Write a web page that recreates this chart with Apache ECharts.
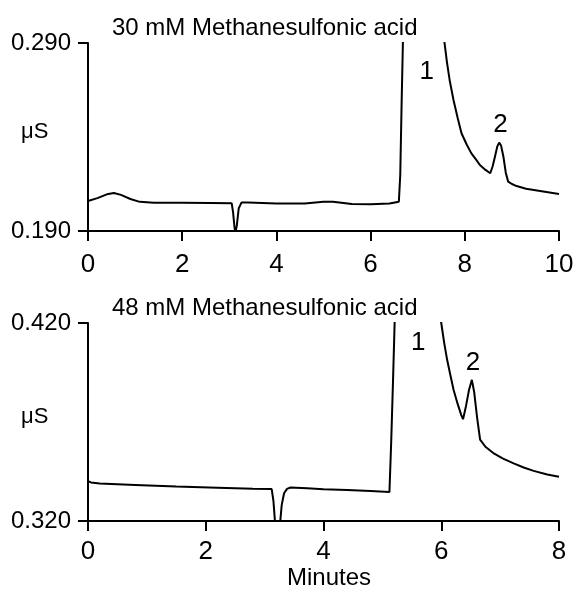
<!DOCTYPE html>
<html>
<head>
<meta charset="utf-8">
<title>Methanesulfonic acid chromatograms</title>
<script src="https://cdn.jsdelivr.net/npm/echarts@6/dist/echarts.min.js"></script>
</head>
<body style="margin: 0;height:100%;background:#fff;">
<div id="main" style="width: 577px;height: 591px;"></div>
<script type="text/javascript">
    // 30 mM run (top)
    var topTimes = [0.00, 0.20, 0.40, 0.55, 0.70, 0.90, 1.10, 1.40, 2.00, 2.60, 3.05, 3.08, 3.11, 3.13, 3.16, 3.20, 3.26, 3.40,
        4.00, 4.60, 5.00, 5.20, 5.60, 6.00, 6.40, 6.60, 6.63, 6.66, 6.69, 6.72, 7.10, 7.54, 7.57, 7.62, 7.68, 7.76, 7.85, 7.93,
        8.04, 8.14, 8.24, 8.32, 8.44, 8.54, 8.59, 8.64, 8.69, 8.73, 8.77, 8.82, 8.87, 8.92, 9.00, 9.10, 9.30, 9.60, 10.00];
    var topValues = [0.2060, 0.2075, 0.2095, 0.2102, 0.2092, 0.2070, 0.2055, 0.2050, 0.2050, 0.2049, 0.2048, 0.2000, 0.1920, 0.1890, 0.1930, 0.2020, 0.2052, 0.2052,
        0.2046, 0.2046, 0.2056, 0.2056, 0.2044, 0.2042, 0.2046, 0.2056, 0.2200, 0.2600, 0.2950, 0.4000, 0.6000, 0.3000, 0.2900, 0.2800, 0.2700, 0.2597, 0.2500, 0.2420,
        0.2360, 0.2313, 0.2280, 0.2251, 0.2225, 0.2207, 0.2243, 0.2295, 0.2350, 0.2370, 0.2355, 0.2295, 0.2210, 0.2163, 0.2150, 0.2139, 0.2125, 0.2113, 0.2097];

    // 48 mM run (bottom)
    var bottomTimes = [0.00, 0.05, 0.20, 0.80, 1.50, 2.20, 2.80, 3.12, 3.15, 3.18, 3.26, 3.29, 3.33, 3.38, 3.44, 3.72, 4.00, 4.40, 4.80, 5.12,
        5.15, 5.18, 5.21, 5.24, 5.60, 5.98, 6.00, 6.05, 6.10, 6.16, 6.21, 6.28, 6.34, 6.37, 6.42, 6.47, 6.52, 6.56, 6.61, 6.66,
        6.75, 6.90, 7.05, 7.23, 7.40, 7.57, 7.80, 8.00];
    var bottomValues = [0.3401, 0.3395, 0.3389, 0.3382, 0.3374, 0.3368, 0.3363, 0.3361, 0.3300, 0.3180, 0.3180, 0.3280, 0.3340, 0.3362, 0.3369, 0.3366, 0.3360, 0.3356, 0.3351, 0.3347,
        0.3600, 0.3900, 0.4220, 0.5000, 0.7000, 0.4250, 0.4200, 0.4100, 0.4014, 0.3930, 0.3862, 0.3790, 0.3735, 0.3714, 0.3780, 0.3860, 0.3913, 0.3850, 0.3720, 0.3611,
        0.3575, 0.3540, 0.3515, 0.3491, 0.3470, 0.3453, 0.3435, 0.3423];

    var topTicks = [0.190, 0.290];
    var bottomTicks = [0.320, 0.420];

    // peak labels [time, value, text]
    var topPeaks = [[7.19, 0.2747, '1'], [8.76, 0.2464, '2']];
    var bottomPeaks = [[5.61, 0.4099, '1'], [6.54, 0.3997, '2']];

    var FONT = "'Liberation Sans', Arial, sans-serif";

    function zip(xs, ys) {
        return xs.map(function (x, i) { return [x, ys[i]]; });
    }
    function peakMarks(list) {
        return list.map(function (p) {
            return {coord: [p[0], p[1]], value: p[2]};
        });
    }
    function xAxisOpt(idx, max) {
        return {
            type: 'value', gridIndex: idx, min: 0, max: max, interval: 2,
            axisLine: {onZero: false, lineStyle: {color: '#000', width: 2}},
            axisTick: {length: 10, lineStyle: {color: '#000', width: 2}},
            axisLabel: {color: '#000', fontSize: 26, fontFamily: FONT, margin: idx === 0 ? 21 : 18},
            splitLine: {show: false}
        };
    }
    function yAxisOpt(idx, ticks) {
        return {
            type: 'value', gridIndex: idx, min: ticks[0], max: ticks[1],
            axisLine: {show: true, lineStyle: {color: '#000', width: 2}},
            axisTick: {show: true, length: 10, customValues: ticks, lineStyle: {color: '#000', width: 2}},
            axisLabel: {
                color: '#000', fontSize: 24, fontFamily: FONT, margin: 17, customValues: ticks,
                formatter: function (v) { return v.toFixed(3); }
            },
            splitLine: {show: false}
        };
    }
    function lineSeries(idx, data, peaks) {
        return {
            type: 'line', xAxisIndex: idx, yAxisIndex: idx,
            data: data, showSymbol: false, clip: true, animation: false,
            lineStyle: {color: '#000', width: 2},
            markPoint: {
                symbol: 'circle', symbolSize: 1,
                itemStyle: {color: 'rgba(0,0,0,0)'},
                label: {show: true, position: 'inside', color: '#000', fontSize: 26, fontFamily: FONT,
                    formatter: function (p) { return p.value; }},
                data: peakMarks(peaks)
            }
        };
    }

    var myChart = echarts.init(document.getElementById('main'));
    var option = {
        animation: false,
        grid: [
            {left: 88, top: 43, width: 471, height: 188},
            {left: 88, top: 323, width: 471, height: 198}
        ],
        xAxis: [xAxisOpt(0, 10), xAxisOpt(1, 8)],
        yAxis: [yAxisOpt(0, topTicks), yAxisOpt(1, bottomTicks)],
        series: [
            lineSeries(0, zip(topTimes, topValues), topPeaks),
            lineSeries(1, zip(bottomTimes, bottomValues), bottomPeaks)
        ],
        graphic: [
            {type: 'text', x: 112, y: 28, style: {text: '30 mM Methanesulfonic acid', fill: '#000', font: '24px ' + FONT, textVerticalAlign: 'middle'}},
            {type: 'text', x: 112, y: 308, style: {text: '48 mM Methanesulfonic acid', fill: '#000', font: '24px ' + FONT, textVerticalAlign: 'middle'}},
            {type: 'text', x: 21, y: 132, style: {text: 'μS', fill: '#000', font: '22px ' + FONT, textVerticalAlign: 'middle'}},
            {type: 'text', x: 21, y: 417, style: {text: 'μS', fill: '#000', font: '22px ' + FONT, textVerticalAlign: 'middle'}},
            {type: 'text', x: 329, y: 578, style: {text: 'Minutes', fill: '#000', font: '24px ' + FONT, textAlign: 'center', textVerticalAlign: 'middle'}}
        ]
    };
    myChart.setOption(option);
</script>
</body>
</html>
